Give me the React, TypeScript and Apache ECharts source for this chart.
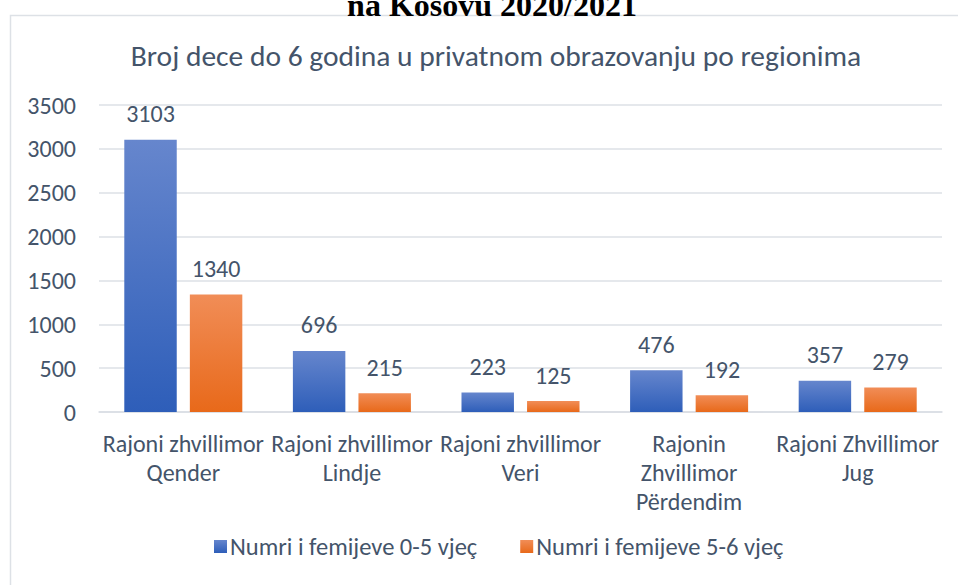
import React, { useEffect, useRef } from "react";
import * as echarts from "echarts";

const categories = [
  "Rajoni zhvillimor\nQender",
  "Rajoni zhvillimor\nLindje",
  "Rajoni zhvillimor\nVeri",
  "Rajonin\nZhvillimor\nPërdendim",
  "Rajoni Zhvillimor\nJug",
];
const seriesNames = ["Numri i femijeve 0-5 vjeç", "Numri i femijeve 5-6 vjeç"];
const values05 = [3103, 696, 223, 476, 357];
const values56 = [1340, 215, 125, 192, 279];
const chartTitle = "Broj dece do 6 godina u privatnom obrazovanju po regionima";
const pageHeading = "na Kosovu 2020/2021";

const FONT = "Carlito, Lato, 'Noto Sans', sans-serif";
const TEXT = "#44546A";
const FS = 24;

export default function App() {
  const ref = useRef<HTMLDivElement>(null);
  useEffect(() => {
    if (!ref.current) return;
    const chart = echarts.init(ref.current, null, { renderer: "svg" });
    const grad = (top: string, bottom: string) =>
      new echarts.graphic.LinearGradient(0, 0, 0, 1, [
        { offset: 0, color: top },
        { offset: 1, color: bottom },
      ]);
    const label = {
      show: true,
      position: "top" as const,
      distance: 14,
      color: TEXT,
      fontSize: FS,
      fontFamily: FONT,
    };
    chart.setOption({
      animation: false,
      backgroundColor: "#ffffff",
      textStyle: { fontFamily: FONT },
      graphic: [
        {
          type: "rect",
          shape: { x: 10.5, y: 15.5, width: 1000, height: 700 },
          style: { fill: "none", stroke: "#DDE1E6", lineWidth: 1.5 },
          silent: true,
        },
        {
          type: "text",
          x: 492,
          y: 21,
          style: {
            text: pageHeading,
            font: "bold 32px 'Liberation Serif', 'Times New Roman', serif",
            fill: "#000000",
            align: "center",
            verticalAlign: "bottom",
          },
          silent: true,
        },
      ],
      title: {
        text: chartTitle,
        left: 491,
        textAlign: "center",
        top: 36,
        textStyle: {
          color: TEXT,
          fontSize: 29.5,
          fontWeight: "normal",
          fontFamily: FONT,
        },
      },
      legend: {
        bottom: 21,
        left: 209,
        itemWidth: 13,
        itemHeight: 13,
        itemGap: 43,
        icon: "rect",
        textStyle: { color: TEXT, fontSize: 24.5, fontFamily: FONT, padding: [0, 0, 0, -2] },
        data: seriesNames,
      },
      grid: { left: 99, right: 16, top: 105, bottom: 173 },
      xAxis: {
        type: "category",
        data: categories,
        axisLine: { lineStyle: { color: "#D9DDE3", width: 1.5 } },
        axisTick: { show: false },
        axisLabel: {
          color: TEXT,
          fontSize: FS,
          lineHeight: 29,
          margin: 17,
          interval: 0,
          fontFamily: FONT,
        },
      },
      yAxis: {
        type: "value",
        min: 0,
        max: 3500,
        interval: 500,
        axisLine: { show: false },
        axisTick: { show: false },
        splitLine: { lineStyle: { color: "#DDE1E6", width: 1.5 } },
        axisLabel: {
          color: TEXT,
          fontSize: FS,
          margin: 23,
          fontFamily: FONT,
          formatter: (v: number) => String(v),
        },
      },
      series: [
        {
          name: seriesNames[0],
          type: "bar",
          data: values05,
          barGap: "25%",
          barCategoryGap: "30%",
          itemStyle: { color: grad("#6686CD", "#2E5EB9") },
          label,
        },
        {
          name: seriesNames[1],
          type: "bar",
          data: values56,
          itemStyle: { color: grad("#F18D57", "#E8691A") },
          label,
        },
      ],
    });
    return () => chart.dispose();
  }, []);
  return (
    <div
      ref={ref}
      style={{ position: "fixed", left: 0, top: 0, width: 958, height: 585 }}
    />
  );
}
